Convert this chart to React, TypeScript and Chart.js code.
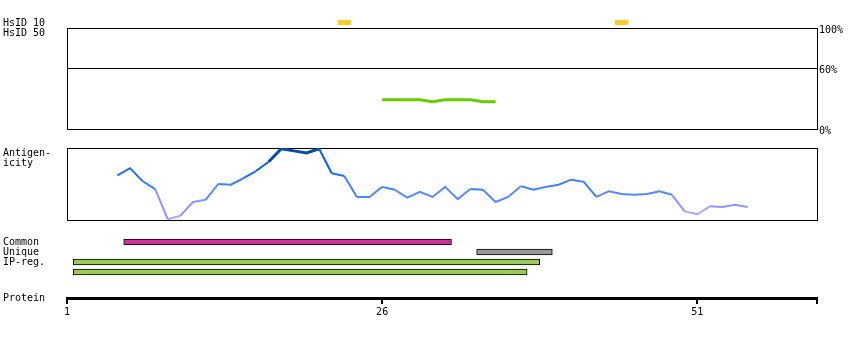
import React, { useEffect, useRef } from 'react';
import { Chart, registerables } from 'chart.js';

Chart.register(...registerables);

// ---------- data ----------
const PROTEIN_LENGTH = 60;
const PROTEIN_TICKS = [1, 26, 51];

const HSID10_RESIDUES = [23, 45];

const HSID50_RESIDUES = [26, 27, 28, 29, 30, 31, 32, 33, 34, 35];
const HSID50_VALUES = [29, 29, 29, 29, 27, 29, 29, 29, 27, 27];
const HSID50_TICKS = [0, 60, 100];

const ANTIGEN_RESIDUES = [
  5, 6, 7, 8, 9, 10, 11, 12, 13, 14, 15, 16, 17, 18, 19, 20, 21, 22, 23, 24,
  25, 26, 27, 28, 29, 30, 31, 32, 33, 34, 35, 36, 37, 38, 39, 40, 41, 42, 43,
  44, 45, 46, 47, 48, 49, 50, 51, 52, 53, 54, 55,
];
const ANTIGEN_VALUES = [
  62, 72, 54, 43, 1, 6, 25, 28, 50, 49, 58, 68, 81, 99, 96, 93, 99, 65, 61, 32,
  32, 46, 42, 31, 39, 32, 46, 29, 43, 42, 25, 32, 47, 42, 46, 49, 56, 53, 32,
  40, 36, 35, 36, 40, 35, 12, 8, 19, 18, 21, 18,
];

const REGION_KEYS = ['Common', 'Unique', 'IP-reg. 1', 'IP-reg. 2'];
const REGION_START = [6, 34, 2, 2];
const REGION_END = [31, 39, 38, 37];
const REGION_COLORS = ['#cc3399', '#999999', '#99cc55', '#99cc55'];

// ---------- layout / style ----------
const FONT = '"DejaVu Sans Mono", monospace';
const X_MIN = 1;
const X_MAX = PROTEIN_LENGTH + 0.5;
const LEFT = 67;
const RIGHT_GAP = 33;

const framePlugin = {
  id: 'frame',
  beforeDatasetsDraw(chart: any) {
    const { ctx, chartArea: a } = chart;
    ctx.save();
    ctx.strokeStyle = '#000';
    ctx.lineWidth = 1;
    ctx.strokeRect(
      Math.round(a.left) + 0.5,
      Math.round(a.top) + 0.5,
      Math.round(a.right - a.left),
      Math.round(a.bottom - a.top)
    );
    ctx.restore();
  },
};

function antigenColor(v: number) {
  if (v >= 88) return '#0050a0';
  if (v >= 70) return '#0a62d8';
  if (v >= 55) return '#1a6ff0';
  if (v >= 40) return '#3a80ff';
  if (v >= 28) return '#5588ff';
  if (v >= 15) return '#8a96ff';
  return '#a6a6ff';
}

const baseOptions = {
  animation: false as const,
  responsive: false,
  events: [] as any[],
  plugins: { legend: { display: false }, tooltip: { enabled: false } },
};

const labelStyle: React.CSSProperties = {
  position: 'absolute',
  left: 3,
  font: `10px ${FONT}`,
  lineHeight: '10px',
  color: '#000',
  whiteSpace: 'pre',
};

export default function App() {
  const hs10Ref = useRef<HTMLCanvasElement>(null);
  const hs50Ref = useRef<HTMLCanvasElement>(null);
  const antRef = useRef<HTMLCanvasElement>(null);
  const regRef = useRef<HTMLCanvasElement>(null);
  const protRef = useRef<HTMLCanvasElement>(null);

  useEffect(() => {
    const charts: Chart[] = [];

    // HsID 10 strip
    charts.push(
      new Chart(hs10Ref.current!, {
        type: 'bar',
        data: {
          labels: ['HsID 10'],
          datasets: [
            {
              data: HSID10_RESIDUES.map((r) => ({ y: 'HsID 10', x: [r - 0.5, r + 0.5] })) as any,
              backgroundColor: '#ffcc22',
              borderWidth: 0,
              barPercentage: 1,
              categoryPercentage: 1,
            },
          ],
        },
        options: {
          ...baseOptions,
          indexAxis: 'y',
          layout: { padding: { left: LEFT, right: RIGHT_GAP, top: 0, bottom: 0 } },
          scales: {
            x: { type: 'linear', min: X_MIN, max: X_MAX, display: false },
            y: { type: 'category', display: false },
          },
        } as any,
      })
    );

    // HsID 50 panel
    charts.push(
      new Chart(hs50Ref.current!, {
        type: 'line',
        data: {
          datasets: [
            {
              data: HSID50_RESIDUES.map((r, i) => ({ x: r, y: HSID50_VALUES[i] })),
              borderColor: '#66cc00',
              borderWidth: 3,
              pointRadius: 0,
              tension: 0,
            },
          ],
        },
        options: {
          ...baseOptions,
          layout: { padding: { left: LEFT, right: 0, top: 28, bottom: 11 } },
          scales: {
            x: { type: 'linear', min: X_MIN, max: X_MAX, display: false },
            y: {
              type: 'linear',
              position: 'right',
              min: 0,
              max: 100,
              afterBuildTicks: (s: any) => {
                s.ticks = HSID50_TICKS.map((v) => ({ value: v }));
              },
              afterFit: (s: any) => {
                s.width = RIGHT_GAP;
              },
              ticks: {
                callback: (v: any) => v + '%',
                font: { family: FONT, size: 10 },
                color: '#000',
                padding: 2,
                labelOffset: 2,
                autoSkip: false,
              },
              grid: {
                drawTicks: false,
                color: (c: any) => (c.tick && c.tick.value === 60 ? '#000' : 'rgba(0,0,0,0)'),
                lineWidth: 1,
              },
              border: { display: false },
            },
          },
        } as any,
        plugins: [framePlugin],
      })
    );

    // Antigenicity panel
    charts.push(
      new Chart(antRef.current!, {
        type: 'line',
        data: {
          datasets: [
            {
              data: ANTIGEN_RESIDUES.map((r, i) => ({ x: r, y: ANTIGEN_VALUES[i] })),
              borderColor: '#3a80ff',
              borderWidth: 2,
              pointRadius: 0,
              tension: 0,
              segment: {
                borderColor: (ctx: any) => antigenColor((ctx.p0.parsed.y + ctx.p1.parsed.y) / 2),
                borderWidth: (ctx: any) =>
                  (ctx.p0.parsed.y + ctx.p1.parsed.y) / 2 >= 88 ? 3 : 2,
              },
            } as any,
          ],
        },
        options: {
          ...baseOptions,
          layout: { padding: { left: LEFT, right: RIGHT_GAP, top: 8, bottom: 10 } },
          scales: {
            x: { type: 'linear', min: X_MIN, max: X_MAX, display: false },
            y: { type: 'linear', min: 0, max: 100, display: false },
          },
        } as any,
        plugins: [framePlugin],
      })
    );

    // Regions
    charts.push(
      new Chart(regRef.current!, {
        type: 'bar',
        data: {
          labels: REGION_KEYS,
          datasets: [
            {
              data: REGION_KEYS.map((k, i) => ({
                y: k,
                x: [REGION_START[i] - 0.5, REGION_END[i] + 0.5],
              })) as any,
              backgroundColor: REGION_COLORS,
              borderColor: '#000',
              borderWidth: 1,
              borderSkipped: false,
              barThickness: 6,
            },
          ],
        },
        options: {
          ...baseOptions,
          indexAxis: 'y',
          layout: { padding: { left: LEFT, right: RIGHT_GAP, top: 0, bottom: 0 } },
          scales: {
            x: { type: 'linear', min: X_MIN, max: X_MAX, display: false },
            y: { type: 'category', display: false },
          },
        } as any,
      })
    );

    // Protein axis
    charts.push(
      new Chart(protRef.current!, {
        type: 'line',
        data: { datasets: [{ data: [] }] },
        options: {
          ...baseOptions,
          layout: { padding: { left: LEFT, right: RIGHT_GAP, top: 0, bottom: 0 } },
          scales: {
            y: { display: false, min: 0, max: 1 },
            x: {
              type: 'linear',
              position: 'bottom',
              min: X_MIN,
              max: X_MAX,
              afterBuildTicks: (s: any) => {
                s.ticks = [...PROTEIN_TICKS, X_MAX].map((v) => ({ value: v }));
              },
              afterFit: (s: any) => {
                s.height = 42;
              },
              ticks: {
                callback: (v: any) => (v > PROTEIN_LENGTH ? '' : String(v)),
                font: { family: FONT, size: 10 },
                color: '#000',
                padding: 2,
                autoSkip: false,
                maxRotation: 0,
              },
              grid: {
                drawOnChartArea: false,
                drawTicks: true,
                tickLength: 6,
                color: '#000',
                lineWidth: 2,
              },
              border: { display: true, color: '#000', width: 3 },
            },
          },
        } as any,
      })
    );

    return () => charts.forEach((c) => c.destroy());
  }, []);

  const canvasStyle = (top: number, h: number): React.CSSProperties => ({
    position: 'absolute',
    left: 0,
    top,
    width: 850,
    height: h,
  });

  return (
    <div style={{ position: 'absolute', left: 0, top: 0, width: 850, height: 340, background: '#fff' }}>
      <canvas ref={hs10Ref} width={850} height={5} style={canvasStyle(20, 5)} />
      <canvas ref={hs50Ref} width={850} height={140} style={canvasStyle(0, 140)} />
      <canvas ref={antRef} width={850} height={90} style={canvasStyle(140, 90)} />
      <canvas ref={regRef} width={850} height={40} style={canvasStyle(237, 40)} />
      <canvas ref={protRef} width={850} height={55} style={canvasStyle(285, 55)} />
      <div style={{ ...labelStyle, top: 18 }}>HsID 10</div>
      <div style={{ ...labelStyle, top: 28 }}>HsID 50</div>
      <div style={{ ...labelStyle, top: 148 }}>{'Antigen-\nicity'}</div>
      <div style={{ ...labelStyle, top: 237 }}>Common</div>
      <div style={{ ...labelStyle, top: 247 }}>Unique</div>
      <div style={{ ...labelStyle, top: 257 }}>IP-reg.</div>
      <div style={{ ...labelStyle, top: 293 }}>Protein</div>
    </div>
  );
}
